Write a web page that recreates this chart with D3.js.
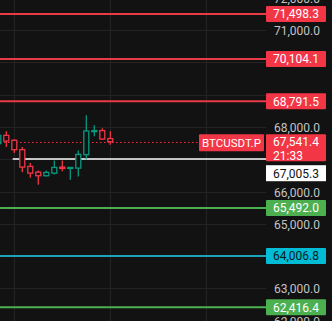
<!DOCTYPE html>
<html>
<head>
<script src="https://d3js.org/d3.v7.min.js"></script>
<style>
  body { margin: 0; background: #121212; }
  svg { display: block; }
  text { font-family: Roboto, "Liberation Sans", Arial, sans-serif; font-size: 12px; }
</style>
</head>
<body>
<div id="chart"></div>
<script>
// ---- data ----
var opens  = [67481, 67739, 67584, 67295, 66776, 66599, 66488, 66568, 66755, 66730, 66724, 67140, 67863, 67885, 67637];
var highs  = [67800, 67863, 67615, 67376, 66879, 66652, 66652, 66963, 66963, 66755, 67273, 68360, 68050, 67957, 67863];
var lows   = [67450, 67376, 67189, 66599, 66425, 66208, 66466, 66528, 66630, 66363, 66466, 66994, 67708, 67606, 67450];
var closes = [67739, 67562, 67295, 66755, 66568, 66488, 66590, 66745, 66714, 66745, 67149, 67873, 67885, 67624, 67541.4];

var priceTicks = [72000, 71000, 70000, 69000, 68000, 67000, 66000, 65000, 64000, 63000, 62000];
var timeGrid = [2, 14, 26];

var levelPrices = [71498.3, 70104.1, 68791.5, 65492.0, 64006.8, 62416.4];
var levelKinds  = ["red", "red", "red", "green", "cyan", "green"];

var symbol = "BTCUSDT.P";
var lastPrice = 67541.4;
var countdown = "21:33";
var markPrice = 67005.3;
var markStart = 1.8; // candle index where the white ray starts

// ---- setup ----
var width = 332, height = 321;
var paneRight = 266;

var colors = {
    up: "#089981", down: "#f23645",
    red: "#f23645", green: "#4caf50", cyan: "#00bcd4",
    redLine: "#e93a48", greenLine: "#4caf50", cyanLine: "#1ea2b8",
    grid: "#232323", axisText: "#c3c3c3"
};

var y = d3.scaleLinear().domain([71000, 63000]).range([30, 288.4]);
var x = d3.scaleLinear().domain([0, 14]).range([-1.7, 110.3]);
var fmt = d3.format(",.1f");

var boxX = 266, boxW = 60, boxH = 16;
var lastY = y(lastPrice);
var lastTop = lastY - 7.5;
var lastH = 27;
// white mark label, pushed below the current price box
var markY = Math.max(y(markPrice), lastTop + lastH + 4 + boxH / 2);

// occupied parts of the price axis (labels under them are hidden)
var busy = levelPrices.map(function(p) { return [y(p) - boxH / 2, y(p) + boxH / 2]; });
busy.push([lastTop, lastTop + lastH]);
busy.push([markY - boxH / 2, markY + boxH / 2]);

var visibleTicks = priceTicks.filter(function(t) {
    var c = y(t);
    return !busy.some(function(b) { return c + 5 > b[0] && c - 5 < b[1]; });
});

var svg = d3.select("#chart").append("svg")
    .attr("width", width)
    .attr("height", height);

svg.append("rect").attr("width", width).attr("height", height).attr("fill", "#121212");

// grid
svg.append("g").selectAll("line").data(priceTicks).enter().append("line")
    .attr("x1", 0).attr("x2", paneRight)
    .attr("y1", function(d) { return Math.round(y(d)) + 0.5; })
    .attr("y2", function(d) { return Math.round(y(d)) + 0.5; })
    .attr("stroke", colors.grid);

svg.append("g").selectAll("line").data(timeGrid).enter().append("line")
    .attr("x1", function(d) { return Math.round(x(d)) + 0.5; })
    .attr("x2", function(d) { return Math.round(x(d)) + 0.5; })
    .attr("y1", 0).attr("y2", height)
    .attr("stroke", colors.grid);

// axis tick labels
svg.append("g").selectAll("text").data(visibleTicks).enter().append("text")
    .attr("x", 274)
    .attr("y", function(d) { return y(d) + 1; })
    .attr("dominant-baseline", "central")
    .attr("fill", colors.axisText)
    .text(function(d) { return fmt(d); });

// horizontal levels
svg.append("g").selectAll("line").data(levelPrices).enter().append("line")
    .attr("x1", 0).attr("x2", paneRight)
    .attr("y1", function(d) { return y(d); })
    .attr("y2", function(d) { return y(d); })
    .attr("stroke", function(d, i) { return colors[levelKinds[i] + "Line"]; })
    .attr("stroke-width", 2);

// white marker ray
svg.append("line")
    .attr("x1", x(markStart)).attr("x2", paneRight)
    .attr("y1", y(markPrice)).attr("y2", y(markPrice))
    .attr("stroke", "#ffffff").attr("stroke-width", 1.5);

// last price dotted line
svg.append("line")
    .attr("x1", 0).attr("x2", 199)
    .attr("y1", Math.round(lastY) + 0.5).attr("y2", Math.round(lastY) + 0.5)
    .attr("stroke", colors.red).attr("stroke-width", 1)
    .attr("stroke-dasharray", "1.5,2.5");

// candles (hollow)
var bodyW = 5;
var candles = svg.append("g").selectAll("g").data(opens).enter().append("g")
    .attr("stroke", function(d, i) { return closes[i] >= opens[i] ? colors.up : colors.down; })
    .attr("stroke-width", 1.3)
    .attr("fill", "none");

candles.append("line")
    .attr("x1", function(d, i) { return x(i); }).attr("x2", function(d, i) { return x(i); })
    .attr("y1", function(d, i) { return y(highs[i]); })
    .attr("y2", function(d, i) { return y(Math.max(opens[i], closes[i])); });
candles.append("line")
    .attr("x1", function(d, i) { return x(i); }).attr("x2", function(d, i) { return x(i); })
    .attr("y1", function(d, i) { return y(Math.min(opens[i], closes[i])); })
    .attr("y2", function(d, i) { return y(lows[i]); });
candles.append("rect")
    .attr("x", function(d, i) { return x(i) - bodyW / 2; })
    .attr("width", bodyW)
    .attr("y", function(d, i) { return y(Math.max(opens[i], closes[i])); })
    .attr("height", function(d, i) { return Math.max(1, Math.abs(y(opens[i]) - y(closes[i]))); })
    .attr("fill", "#121212");

// level labels on the price axis
var labels = svg.append("g").selectAll("g").data(levelPrices).enter().append("g");
labels.append("rect")
    .attr("x", boxX).attr("width", boxW)
    .attr("y", function(d) { return y(d) - boxH / 2; })
    .attr("height", boxH).attr("rx", 1)
    .attr("fill", function(d, i) { return colors[levelKinds[i]]; });
labels.append("text")
    .attr("x", 273)
    .attr("y", function(d) { return y(d) + 0.5; })
    .attr("dominant-baseline", "central")
    .attr("fill", function(d, i) { return levelKinds[i] == "cyan" ? "#0b1a1e" : "#ffffff"; })
    .text(function(d) { return fmt(d); });

// current price box with countdown
svg.append("rect").attr("x", boxX).attr("width", boxW)
    .attr("y", lastTop).attr("height", lastH).attr("rx", 1)
    .attr("fill", colors.red);
svg.append("text").attr("x", 273).attr("y", lastY + 0.5)
    .attr("dominant-baseline", "central").attr("fill", "#ffffff")
    .text(fmt(lastPrice));
svg.append("text").attr("x", 273).attr("y", lastY + 14.5)
    .attr("dominant-baseline", "central").attr("fill", "#ffffff")
    .text(countdown);

// symbol tag
svg.append("rect").attr("x", 199).attr("width", 65)
    .attr("y", lastTop).attr("height", 17).attr("rx", 1)
    .attr("fill", colors.red);
svg.append("text").attr("x", 231.5).attr("y", lastY + 1)
    .attr("text-anchor", "middle")
    .attr("dominant-baseline", "central").attr("fill", "#ffffff")
    .style("font-size", "11.5px")
    .text(symbol);

svg.append("rect").attr("x", boxX).attr("width", boxW)
    .attr("y", markY - boxH / 2).attr("height", boxH)
    .attr("fill", "#ffffff");
svg.append("text").attr("x", 273).attr("y", markY + 0.5)
    .attr("dominant-baseline", "central").attr("fill", "#111111")
    .text(fmt(markPrice));
</script>
</body>
</html>
